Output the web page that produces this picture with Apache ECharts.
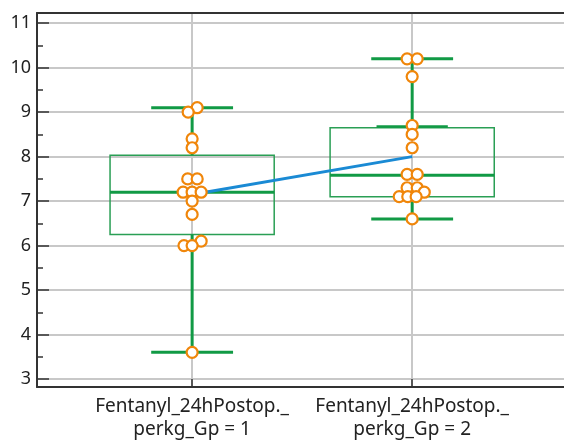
<!DOCTYPE html>
<html>
<head>
<meta charset="utf-8">
<script src="https://cdn.jsdelivr.net/npm/echarts@6/dist/echarts.min.js"></script>
<style>
  html, body { margin: 0; padding: 0; background: #fff; }
  #chart { width: 564px; height: 441px; }
</style>
</head>
<body>
<div id="chart"></div>
<script>
// categories and box statistics
var categories = ["Fentanyl_24hPostop._\nperkg_Gp = 1", "Fentanyl_24hPostop._\nperkg_Gp = 2"];
var lowWhisker = [3.6, 6.6];
var q1 = [6.25, 7.1];
var median = [7.2, 7.58];
var q3 = [8.03, 8.65];
var highWhisker = [9.1, 10.2];
var extraCap = [null, 8.68];
var means = [7.15, 8.0];

// raw points, with a small horizontal jitter (data units)
var values1 = [9.1, 9.0, 8.4, 8.2, 7.5, 7.5, 7.2, 7.2, 7.2, 7.0, 6.7, 6.1, 6.0, 6.0, 3.6];
var jitter1 = [0.023, -0.018, 0, 0, -0.02, 0.023, -0.041, 0, 0.041, 0, 0, 0.041, -0.037, 0, 0];
var values2 = [10.2, 10.2, 9.8, 8.7, 8.5, 8.2, 7.6, 7.6, 7.3, 7.3, 7.2, 7.1, 7.1, 7.1, 6.6];
var jitter2 = [-0.023, 0.023, 0, 0, 0, 0, -0.023, 0.023, -0.023, 0.023, 0.055, -0.059, -0.02, 0.018, 0];

var yTicks = [3, 4, 5, 6, 7, 8, 9, 10, 11];
var yMinorTicks = [3.5, 4.5, 5.5, 6.5, 7.5, 8.5, 9.5, 10.5];

var green = "#119a45";
var boxGreen = "#2a9f55";
var orange = "#f0860a";

var boxData = categories.map(function (c, i) {
  return [i + 1, lowWhisker[i], q1[i], median[i], q3[i], highWhisker[i], extraCap[i] == null ? "-" : extraCap[i]];
});
var points = [];
values1.forEach(function (v, i) { points.push([1 + jitter1[i], v]); });
values2.forEach(function (v, i) { points.push([2 + jitter2[i], v]); });
var meanData = means.map(function (m, i) { return [i + 1, m]; });

var chart = echarts.init(document.getElementById("chart"));
chart.setOption({
  animation: false,
  grid: { left: 37, right: 0, top: 13, bottom: 54 },
  xAxis: [
    {
      type: "value",
      min: 0.295,
      max: 2.69,
      position: "bottom",
      axisLine: { show: true, lineStyle: { color: "#333", width: 2 } },
      axisTick: { show: true, inside: true, length: 8, customValues: [1, 2], lineStyle: { color: "#333", width: 1.5 } },
      axisLabel: {
        customValues: [1, 2],
        formatter: function (v) { return categories[Math.round(v) - 1]; },
        fontFamily: "Noto Sans",
        fontSize: 19,
        lineHeight: 23,
        color: "#222",
        margin: 8
      },
      splitLine: { show: true, lineStyle: { color: "#c8c8c8", width: 2 } }
    },
    {
      type: "value",
      min: 0.295,
      max: 2.69,
      position: "top",
      axisLine: { show: true, lineStyle: { color: "#333", width: 2 } },
      axisTick: { show: false },
      axisLabel: { show: false },
      splitLine: { show: false }
    }
  ],
  yAxis: [
    {
      type: "value",
      min: 2.82,
      max: 11.23,
      axisLine: { show: true, lineStyle: { color: "#333", width: 2 } },
      axisTick: { show: true, inside: true, length: 12, customValues: yTicks, lineStyle: { color: "#333", width: 1.5 } },
      axisLabel: { customValues: yTicks, fontFamily: "Noto Sans", fontSize: 18, color: "#222", margin: 6 },
      splitLine: { show: true, lineStyle: { color: "#c8c8c8", width: 2 } }
    },
    {
      type: "value",
      min: 2.82,
      max: 11.23,
      position: "left",
      axisLine: { show: false },
      axisTick: { show: true, inside: true, length: 6, customValues: yMinorTicks, lineStyle: { color: "#333", width: 1.5 } },
      axisLabel: { show: false },
      splitLine: { show: false }
    }
  ],
  series: [
    {
      type: "custom",
      data: boxData,
      z: 2,
      renderItem: function (params, api) {
        var x = api.value(0);
        var half = 0.373, capHalf = 0.186, extraHalf = 0.162;
        var pLow = api.coord([x, api.value(1)]);
        var pQ1 = api.coord([x, api.value(2)]);
        var pMed = api.coord([x, api.value(3)]);
        var pQ3 = api.coord([x, api.value(4)]);
        var pHigh = api.coord([x, api.value(5)]);
        var left = api.coord([x - half, 0])[0];
        var right = api.coord([x + half, 0])[0];
        var capL = api.coord([x - capHalf, 0])[0];
        var capR = api.coord([x + capHalf, 0])[0];
        var thick = { stroke: green, lineWidth: 3 };
        var children = [
          { type: "rect", shape: { x: left, y: pQ3[1], width: right - left, height: pQ1[1] - pQ3[1] },
            style: { fill: "none", stroke: boxGreen, lineWidth: 1.5 } },
          { type: "line", shape: { x1: pQ3[0], y1: pQ3[1], x2: pHigh[0], y2: pHigh[1] }, style: thick },
          { type: "line", shape: { x1: pQ1[0], y1: pQ1[1], x2: pLow[0], y2: pLow[1] }, style: thick },
          { type: "line", shape: { x1: capL, y1: pHigh[1], x2: capR, y2: pHigh[1] }, style: thick },
          { type: "line", shape: { x1: capL, y1: pLow[1], x2: capR, y2: pLow[1] }, style: thick },
          { type: "line", shape: { x1: left, y1: pMed[1], x2: right, y2: pMed[1] }, style: thick }
        ];
        var extra = api.value(6);
        if (!isNaN(extra)) {
          var pe = api.coord([x, extra]);
          children.push({ type: "line",
            shape: { x1: api.coord([x - extraHalf, 0])[0], y1: pe[1], x2: api.coord([x + extraHalf, 0])[0], y2: pe[1] },
            style: { stroke: green, lineWidth: 2.5 } });
        }
        return { type: "group", children: children };
      }
    },
    {
      type: "line",
      data: meanData,
      symbol: "none",
      z: 3,
      lineStyle: { color: "#1a8ad4", width: 3 }
    },
    {
      type: "scatter",
      data: points,
      symbol: "circle",
      symbolSize: 11,
      z: 4,
      itemStyle: { color: "#fff", borderColor: orange, borderWidth: 2.2, opacity: 1 }
    }
  ]
});
</script>
</body>
</html>
